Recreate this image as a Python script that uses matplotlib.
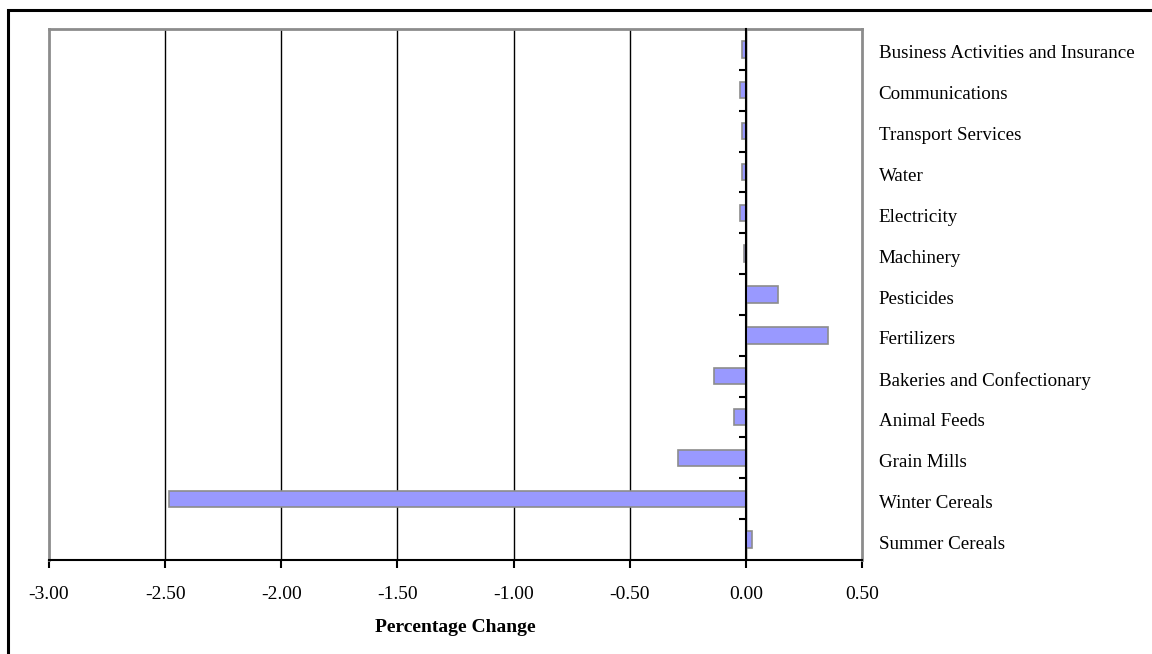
import numpy as np
import matplotlib
matplotlib.use('Agg')
import matplotlib.pyplot as plt
import matplotlib.transforms as mtransforms
from matplotlib.patches import Rectangle
from matplotlib.ticker import FixedLocator, FormatStrFormatter

plt.rcParams['font.family'] = ['Liberation Serif', 'DejaVu Serif']

categories = ['Business Activities and Insurance', 'Communications', 'Transport Services',
              'Water', 'Electricity', 'Machinery', 'Pesticides', 'Fertilizers',
              'Bakeries and Confectionary', 'Animal Feeds', 'Grain Mills',
              'Winter Cereals', 'Summer Cereals']
pct_change = [-0.018, -0.027, -0.018, -0.018, -0.027, -0.010, 0.139, 0.354,
              -0.138, -0.052, -0.290, -2.485, 0.027]
x_ticks = [-3.0, -2.5, -2.0, -1.5, -1.0, -0.5, 0.0, 0.5]

fig = plt.figure(figsize=(11.52, 6.54), dpi=100)
ax = fig.add_axes([49 / 1152, 1 - 560 / 654, (862 - 49) / 1152, (560 - 29) / 654])

pos = np.arange(len(categories))
ax.barh(pos, pct_change, height=0.4, color='#9999FF', edgecolor='#8c8c8c',
        linewidth=1.2, zorder=3)

ax.set_xlim(-3.0, 0.5)
ax.set_ylim(len(categories) - 0.5, -0.5)

# vertical gridlines
for x in x_ticks[1:-1]:
    ax.axvline(x, color='black', linewidth=1, zorder=1)
ax.axvline(x_ticks[0], color='#8c8c8c', linewidth=2, zorder=2, clip_on=False)

# spines
ax.spines['left'].set_position(('data', 0))
ax.spines['left'].set_color('black')
ax.spines['left'].set_linewidth(1.5)
ax.spines['left'].set_zorder(4)
for side in ['top', 'right']:
    ax.spines[side].set_color('#8c8c8c')
    ax.spines[side].set_linewidth(2)
ax.spines['bottom'].set_color('black')
ax.spines['bottom'].set_linewidth(1.5)

ax.set_xticks(x_ticks)
ax.xaxis.set_major_formatter(FormatStrFormatter('%.2f'))
ax.tick_params(axis='x', direction='out', length=6, width=1.5, pad=13,
               labelsize=14, colors='black')

ax.set_yticks(pos)
ax.set_yticklabels(categories)
ax.yaxis.set_minor_locator(FixedLocator(np.arange(len(categories) - 1) + 0.5))
ax.tick_params(axis='y', which='major', left=False, right=False,
               labelleft=False, labelright=True, pad=8.5, labelsize=13.7)
ax.tick_params(axis='y', which='minor', left=True, right=False,
               direction='out', length=5, width=1.5)
shift = mtransforms.ScaledTranslation(0, -2.5 / 100, fig.dpi_scale_trans)
for lbl in ax.get_yticklabels():
    lbl.set_horizontalalignment('left')
    lbl.set_transform(lbl.get_transform() + shift)

ax.set_xlabel('Percentage Change', fontsize=14, fontweight='bold', labelpad=11)

# outer border of the chart area
fig.patches.append(Rectangle((8 / 1152, -0.1), 1.2, 1 - 10 / 654 + 0.1,
                             transform=fig.transFigure, fill=False,
                             edgecolor='black', linewidth=2.2))

fig.savefig('out.png', dpi=100)
